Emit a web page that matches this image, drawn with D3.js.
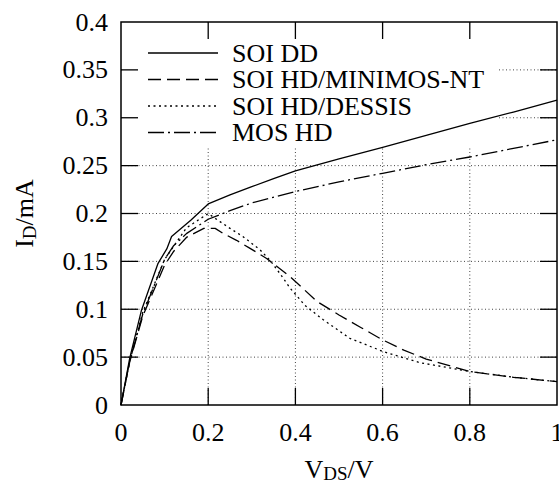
<!DOCTYPE html>
<html lang="en">
<head>
<meta charset="UTF-8">
<title>I_D vs V_DS</title>
<script src="https://d3js.org/d3.v7.min.js"></script>
<style>
    body { margin: 0; background: #fff; }
    svg { display: block; }
    .grid line { stroke: #444; stroke-width: 1; stroke-dasharray: 1,2.5; }
    .curve { fill: none; stroke: #000; stroke-width: 1.3; }
</style>
</head>
<body>
<svg id="chart"></svg>
<script>
    // values (V_DS in V, I_D in mA)
    const soiDD_v = [0, 0.02, 0.047, 0.085, 0.105, 0.116, 0.16, 0.2, 0.25, 0.3, 0.35, 0.4, 0.5, 0.6, 0.7, 0.8, 0.9, 1.0];
    const soiDD_i = [0, 0.049, 0.099, 0.148, 0.163, 0.176, 0.193, 0.21, 0.2195, 0.228, 0.2365, 0.2445, 0.257, 0.269, 0.2815, 0.294, 0.306, 0.3185];

    const minimos_v = [0, 0.02, 0.05, 0.1, 0.12, 0.15, 0.19, 0.216, 0.235, 0.265, 0.296, 0.334, 0.388, 0.45, 0.5, 0.55, 0.6, 0.65, 0.7, 0.8, 0.9, 1.0];
    const minimos_i = [0, 0.045, 0.093, 0.146, 0.16, 0.175, 0.1845, 0.1845, 0.179, 0.172, 0.1636, 0.153, 0.134, 0.108, 0.094, 0.081, 0.068, 0.057, 0.048, 0.035, 0.029, 0.0244];

    const dessis_v = [0, 0.02, 0.05, 0.1, 0.15, 0.2, 0.227, 0.25, 0.28, 0.319, 0.342, 0.365, 0.388, 0.422, 0.464, 0.525, 0.602, 0.686, 0.8, 0.9, 1.0];
    const dessis_i = [0, 0.046, 0.097, 0.152, 0.185, 0.2, 0.1915, 0.1845, 0.1758, 0.162, 0.151, 0.137, 0.122, 0.104, 0.089, 0.0696, 0.0557, 0.0442, 0.035, 0.029, 0.0244];

    const mos_v = [0, 0.02, 0.05, 0.1, 0.12, 0.15, 0.2, 0.25, 0.3, 0.4, 0.5, 0.6, 0.7, 0.8, 0.9, 1.0];
    const mos_i = [0, 0.046, 0.095, 0.152, 0.166, 0.179, 0.194, 0.203, 0.211, 0.223, 0.233, 0.242, 0.251, 0.259, 0.268, 0.277];

    const seriesNames = ["SOI DD", "SOI HD/MINIMOS-NT", "SOI HD/DESSIS", "MOS HD"];
    const seriesDash = ["none", "13,6", "2,3.5", "16,4,2,4"];

    const xTicks = [0, 0.2, 0.4, 0.6, 0.8, 1];
    const xTickLabels = ["0", "0.2", "0.4", "0.6", "0.8", "1"];
    const yTicks = [0, 0.05, 0.1, 0.15, 0.2, 0.25, 0.3, 0.35, 0.4];
    const yTickLabels = ["0", "0.05", "0.1", "0.15", "0.2", "0.25", "0.3", "0.35", "0.4"];

    const width = 559, height = 484;
    const margin = {top: 22, right: 2, bottom: 79, left: 121};
    const fontSize = 26;
    const serif = "'Liberation Serif', 'Times New Roman', Times, 'DejaVu Serif', serif";

    const svg = d3.select("#chart").attr("width", width).attr("height", height)
        .attr("font-family", serif);

    const x = d3.scaleLinear().domain([0, 1]).range([margin.left, width - margin.right]);
    const y = d3.scaleLinear().domain([0, 0.4]).range([height - margin.bottom, margin.top]);

    const x0 = x.range()[0], x1 = x.range()[1];
    const y0 = y.range()[0], y1 = y.range()[1];

    // grid
    const grid = svg.append("g").attr("class", "grid");
    grid.selectAll(".gx")
        .data(xTicks.slice(1, -1))
        .enter().append("line")
        .attr("x1", d => x(d)).attr("x2", d => x(d))
        .attr("y1", y0).attr("y2", y1);
    grid.selectAll(".gy")
        .data(yTicks.slice(1, -1))
        .enter().append("line")
        .attr("x1", x0).attr("x2", x1)
        .attr("y1", d => y(d)).attr("y2", d => y(d));

    // legend box hides the grid behind it
    const legendRight = 497, legendBottom = 147;
    svg.append("rect")
        .attr("x", x0 + 1).attr("y", y1 + 1)
        .attr("width", legendRight - x0 - 1)
        .attr("height", legendBottom - y1 - 1)
        .attr("fill", "#fff");

    // curves
    const series = [
        soiDD_v.map((v, i) => [v, soiDD_i[i]]),
        minimos_v.map((v, i) => [v, minimos_i[i]]),
        dessis_v.map((v, i) => [v, dessis_i[i]]),
        mos_v.map((v, i) => [v, mos_i[i]])
    ];

    const line = d3.line()
        .x(d => x(d[0]))
        .y(d => y(d[1]));

    svg.append("g").selectAll("path")
        .data(series)
        .enter().append("path")
        .attr("class", "curve")
        .attr("d", line)
        .attr("stroke-linejoin", "round")
        .attr("stroke-dasharray", (d, i) => seriesDash[i]);

    // ticks on all four sides, pointing inward
    const tickLen = 17;
    const ticks = svg.append("g").attr("stroke", "#000").attr("stroke-width", 1.3);
    xTicks.slice(1, -1).forEach(t => {
        ticks.append("line").attr("x1", x(t)).attr("x2", x(t)).attr("y1", y0).attr("y2", y0 - tickLen);
        ticks.append("line").attr("x1", x(t)).attr("x2", x(t)).attr("y1", y1).attr("y2", y1 + tickLen);
    });
    yTicks.slice(1, -1).forEach(t => {
        ticks.append("line").attr("x1", x0).attr("x2", x0 + tickLen).attr("y1", y(t)).attr("y2", y(t));
        ticks.append("line").attr("x1", x1).attr("x2", x1 - tickLen).attr("y1", y(t)).attr("y2", y(t));
    });

    // frame
    svg.append("rect")
        .attr("x", x0).attr("y", y1)
        .attr("width", x1 - x0).attr("height", y0 - y1)
        .attr("fill", "none").attr("stroke", "#000").attr("stroke-width", 1.5);

    // tick labels
    svg.append("g").selectAll("text")
        .data(xTicks)
        .enter().append("text")
        .attr("x", d => x(d))
        .attr("y", 441)
        .attr("text-anchor", "middle")
        .attr("font-size", fontSize)
        .text((d, i) => xTickLabels[i]);

    svg.append("g").selectAll("text")
        .data(yTicks)
        .enter().append("text")
        .attr("x", 108)
        .attr("y", d => y(d))
        .attr("dy", "0.33em")
        .attr("text-anchor", "end")
        .attr("font-size", fontSize)
        .text((d, i) => yTickLabels[i]);

    // axis titles
    const xTitle = svg.append("text")
        .attr("x", (x0 + x1) / 2)
        .attr("y", 478)
        .attr("text-anchor", "middle")
        .attr("font-size", fontSize);
    xTitle.append("tspan").text("V");
    xTitle.append("tspan").attr("font-size", 19).attr("dy", 2).text("DS");
    xTitle.append("tspan").attr("dy", -2).text("/V");

    const yTitle = svg.append("text")
        .attr("transform", `translate(33,${(y0 + y1) / 2}) rotate(-90)`)
        .attr("text-anchor", "middle")
        .attr("font-size", fontSize);
    yTitle.append("tspan").text("I");
    yTitle.append("tspan").attr("font-size", 19).attr("dy", 3).text("D");
    yTitle.append("tspan").attr("dy", -3).text("/mA");

    // legend
    const legendY = [53, 79.5, 106, 132.5];
    const legend = svg.append("g").selectAll("g")
        .data(seriesNames)
        .enter().append("g")
        .attr("transform", (d, i) => `translate(0,${legendY[i]})`);
    legend.append("line")
        .attr("class", "curve")
        .attr("x1", 148).attr("x2", 218)
        .attr("y1", 0).attr("y2", 0)
        .attr("stroke-dasharray", (d, i) => seriesDash[i]);
    legend.append("text")
        .attr("x", 232)
        .attr("dy", "0.33em")
        .attr("font-size", fontSize)
        .text(d => d);
</script>
</body>
</html>
